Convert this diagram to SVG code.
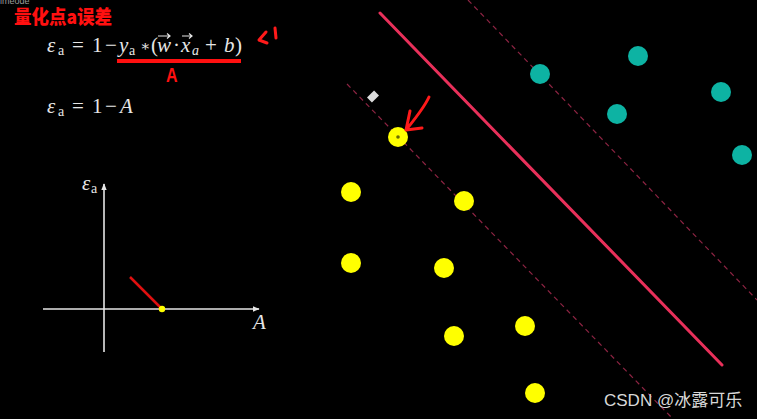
<svg xmlns="http://www.w3.org/2000/svg" width="757" height="419" viewBox="0 0 757 419">
<style>
.math{font-family:"Liberation Serif","DejaVu Serif",serif;font-size:21px;fill:#e6e6e6}
.it{font-style:italic}
.sub{font-size:14px}
.ax{stroke:#e6e6e6;stroke-width:1.6;fill:none}
.dash{stroke:#8e2443;stroke-width:1.2;stroke-dasharray:5 4;fill:none}
.yel{fill:#ffff00}
.teal{fill:#0db3a3}
.hand{stroke:#ff1a1a;stroke-width:3;fill:none;stroke-linecap:round;stroke-linejoin:round}
.vec{stroke:#e6e6e6;stroke-width:1.2;fill:none}
</style>
<defs>
<marker id="ah" viewBox="0 0 10 10" refX="9" refY="5" markerWidth="7" markerHeight="7" orient="auto-start-reverse" markerUnits="userSpaceOnUse">
<path d="M0,1 L10,5 L0,9 z" fill="#e6e6e6"/>
</marker>
</defs>
<rect width="757" height="419" fill="#000"/>

<g id="header">
<text x="0" y="4" font-family="Liberation Sans,sans-serif" font-size="9" fill="#9a9a9a">imeode</text>
<text x="0" y="0" transform="translate(14,24) scale(0.92,1)" font-family="Noto Sans CJK SC,sans-serif" font-size="19" font-weight="900" fill="#ff1010">量化点a误差</text>
</g>

<g id="formula1" class="math">
<text x="47" y="52" class="it">ε</text>
<text x="58" y="55" class="sub">a</text>
<text x="72" y="52">=</text>
<text x="92" y="52">1</text>
<text x="105" y="52">−</text>
<text x="119" y="52" class="it">y</text>
<text x="129" y="55" class="sub">a</text>
<text x="140" y="51" font-size="15">∗</text>
<text x="151" y="52">(</text>
<text x="157" y="52" class="it">w</text>
<text x="173" y="52">·</text>
<text x="181" y="52" class="it">x</text>
<text x="192" y="55" class="sub it">a</text>
<text x="205" y="52">+</text>
<text x="224" y="52" class="it">b</text>
<text x="235" y="52">)</text>
<path class="vec" d="M158,36 H170 M167,33.5 L170,36 L167,38.5"/>
<path class="vec" d="M182,36 H192 M189,33.5 L192,36 L189,38.5"/>
</g>

<g id="annotation">
<rect x="117" y="59" width="124" height="4" fill="#ff1010"/>
<text x="0" y="0" transform="translate(166,82) scale(0.8,1)" font-family="Liberation Sans,sans-serif" font-size="20" font-weight="bold" fill="#ff1010">A</text>
<path class="hand" d="M266,32 L259,40 L267,43 M275,28 L276,38"/>
</g>

<g id="formula2" class="math">
<text x="47" y="113" class="it">ε</text>
<text x="58" y="116" class="sub">a</text>
<text x="72" y="113">=</text>
<text x="92" y="113">1</text>
<text x="105" y="113">−</text>
<text x="120" y="113" class="it">A</text>
</g>

<g id="plot">
<line class="ax" x1="104" y1="352" x2="104" y2="184" marker-end="url(#ah)"/>
<line class="ax" x1="43" y1="309" x2="259" y2="309" marker-end="url(#ah)"/>
<text x="82" y="190" class="math it" font-size="18">ε</text>
<text x="91" y="193" class="math sub">a</text>
<text x="253" y="329" class="math it" font-size="18">A</text>
<line x1="130" y1="277" x2="162" y2="309" stroke="#e01010" stroke-width="2.5"/>
<circle cx="162" cy="309" r="3.2" fill="#ffff00"/>
</g>

<g id="connectors">
<line x1="380" y1="13" x2="722" y2="365" stroke="#e8305a" stroke-width="3" stroke-linecap="round"/>
<line class="dash" x1="468" y1="0" x2="757" y2="300"/>
<line class="dash" x1="347" y1="84" x2="673" y2="419"/>
</g>

<g id="teal-points">
<circle class="teal" cx="540" cy="74" r="10"/>
<circle class="teal" cx="638" cy="56" r="10"/>
<circle class="teal" cx="617" cy="114" r="10"/>
<circle class="teal" cx="721" cy="92" r="10"/>
<circle class="teal" cx="742" cy="155" r="10"/>
</g>

<g id="yellow-points">
<circle class="yel" cx="398" cy="137" r="10"/>
<circle cx="398" cy="137" r="1.8" fill="#6b6b00"/>
<circle class="yel" cx="351" cy="192" r="10"/>
<circle class="yel" cx="464" cy="201" r="10"/>
<circle class="yel" cx="351" cy="263" r="10"/>
<circle class="yel" cx="444" cy="268" r="10"/>
<circle class="yel" cx="454" cy="336" r="10"/>
<circle class="yel" cx="525" cy="326" r="10"/>
<circle class="yel" cx="535" cy="393" r="10"/>
</g>

<g id="marker-arrow">
<rect x="368" y="93" width="10" height="7" fill="#dcdcdc" transform="rotate(-45 373 96.5)"/>
<path class="hand" d="M429,97 C424,108 414,120 406,130 M410,111 L406,130 L422,128"/>
</g>

<g id="watermark">
<text x="604" y="406" font-family="Liberation Sans,Noto Sans CJK SC,sans-serif" font-size="17" fill="#d8d8d8">CSDN @冰露可乐</text>
</g>
</svg>
